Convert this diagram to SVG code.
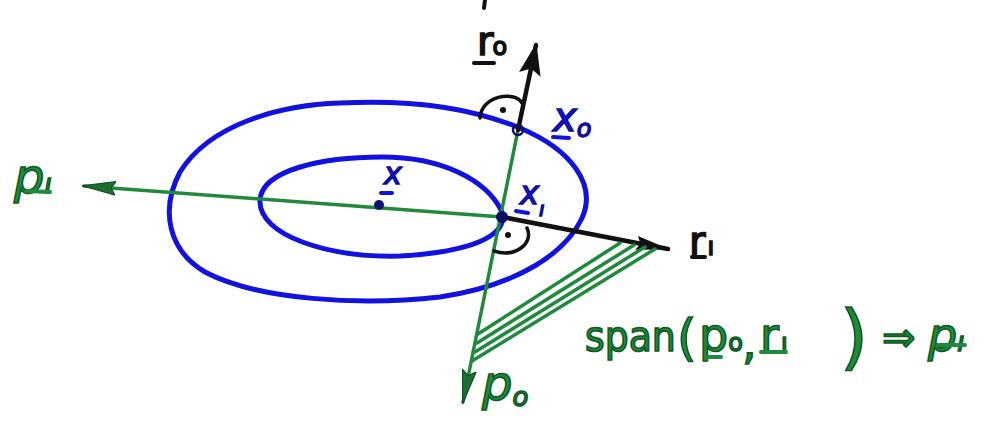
<svg xmlns="http://www.w3.org/2000/svg" width="1001" height="428" viewBox="0 0 1001 428">
<style>
.blue{fill:none;stroke:#1212e0;stroke-width:5;stroke-linecap:round;stroke-linejoin:round}
.gl{fill:none;stroke:#1f8a3b;stroke-width:3.5;stroke-linecap:round}
.kl{fill:none;stroke:#111;stroke-width:4.5;stroke-linecap:round}
.ka{fill:none;stroke:#111;stroke-width:3.5;stroke-linecap:round}
.t{font-family:"DejaVu Sans","Liberation Sans",sans-serif}
.tg{fill:#1f8a3b;stroke:#0f5a22;stroke-width:1.6}
.tb{fill:#1212e0;stroke:#0a0a90;stroke-width:1.4}
.tk{fill:#111;stroke:#111;stroke-width:1.6}
.ug{stroke:#1f8a3b;stroke-width:4;stroke-linecap:round}
.ub{stroke:#1212e0;stroke-width:4;stroke-linecap:round}
.uk{stroke:#111;stroke-width:4;stroke-linecap:round}
.cond{font-family:"DejaVu Sans Condensed","DejaVu Sans",sans-serif;font-stretch:condensed}
</style>
<defs>
<marker id="mk0" markerUnits="userSpaceOnUse" markerWidth="32" markerHeight="24" refX="30" refY="12" orient="auto"><path d="M0,1 L32,12 L0,23 L6,12 Z" fill="#111"/></marker>
<marker id="mk1" markerUnits="userSpaceOnUse" markerWidth="34" markerHeight="14" refX="32" refY="7" orient="auto"><path d="M0,0 L34,7 L0,14 L4,7 Z" fill="#111"/></marker>
<marker id="mg" markerUnits="userSpaceOnUse" markerWidth="34" markerHeight="16" refX="32" refY="8" orient="auto"><path d="M0,1 L34,8 L0,15 L5,8 Z" fill="#1a6e30" stroke="#0f4a1f" stroke-width="1"/></marker>
</defs>

<g id="level-sets">
<path id="outer" class="blue" d="M 340 103 C 420 99 475 110 520 128 C 572 150 597 185 582 218 C 566 252 520 285 440 297 C 360 306 258 300 205 272 C 168 250 160 210 180 172 C 210 124 280 105 340 103 Z"/>
<path id="inner" class="blue" d="M 260 200 C 262 170 322 157 382 157 C 442 157 486 180 501 210 C 511 236 470 252 400 256 C 330 258 258 236 260 200 Z"/>
</g>

<g id="connectors">
<line class="gl" x1="502" y1="217" x2="84" y2="186" marker-end="url(#mg)"/>
<line class="gl" x1="518" y1="130" x2="463" y2="402" marker-end="url(#mg)"/>
<line class="kl" x1="518" y1="130" x2="536" y2="45" marker-end="url(#mk0)"/>
<line class="kl" x1="502" y1="217" x2="668" y2="249" marker-end="url(#mk1)"/>
<g id="hatch">
<line class="gl" x1="478" y1="334" x2="620" y2="243"/>
<line class="gl" x1="477" y1="343" x2="634" y2="245"/>
<line class="gl" x1="475" y1="352" x2="645" y2="247"/>
<line class="gl" x1="472" y1="361" x2="655" y2="249"/>
</g>
</g>

<g id="right-angles">
<path class="ka" d="M 480 118 C 481 96 514 90 522 103"/>
<circle cx="503" cy="110" r="3" fill="#111"/>
<path class="ka" d="M 494 251 C 516 258 534 243 527 228"/>
<circle cx="508" cy="235" r="3" fill="#111"/>
</g>

<g id="points">
<circle cx="379" cy="205" r="5" fill="#101070"/>
<circle cx="518" cy="130" r="5" fill="none" stroke="#101060" stroke-width="2.5"/>
<circle cx="502" cy="217" r="6" fill="#101060"/>
</g>

<g id="label-x">
<text class="t tb" x="384" y="184" font-size="30" font-style="italic">x</text>
<line class="ub" x1="381" y1="193" x2="392" y2="193"/>
</g>
<g id="label-x0">
<text class="t tb" x="553" y="131" font-size="40" font-style="italic">x<tspan font-size="24" dy="6">o</tspan></text>
<line class="ub" x1="553" y1="137" x2="569" y2="138"/>
</g>
<g id="label-x1">
<text class="t tb" x="520" y="204" font-size="32" font-style="italic">x<tspan font-size="20" dy="12">ı</tspan></text>
<line class="ub" x1="516" y1="211" x2="528" y2="213"/>
</g>
<g id="label-r0">
<text class="t tk" x="477" y="55" font-size="40">r<tspan font-size="24" dx="-1">o</tspan></text>
<line class="uk" x1="474" y1="63" x2="494" y2="63"/>
</g>
<g id="label-r1">
<text class="t tk" x="689" y="255" font-size="40">r<tspan font-size="24" dx="2">ı</tspan></text>
<line class="uk" x1="692" y1="257" x2="705" y2="257"/>
</g>
<g id="label-p0">
<text class="t tg" x="482" y="400" font-size="48" font-style="italic">p<tspan font-size="26" dy="6">o</tspan></text>
</g>
<g id="label-p1">
<text class="t tg" x="14" y="193" font-size="48" font-style="italic">p<tspan font-size="26">ı</tspan></text>
<line class="ug" x1="27" y1="191" x2="50" y2="192"/>
</g>
<g id="label-span">
<text class="t tg" y="351" font-size="46"><tspan x="585" class="cond" font-size="42">span</tspan><tspan x="677" font-size="50" dy="4">(</tspan><tspan x="699" dy="-4">p</tspan><tspan font-size="24">o</tspan><tspan x="742" dy="8">,</tspan><tspan x="760" dy="-8">r</tspan><tspan font-size="24" dx="2">ı</tspan><tspan x="840" font-size="72" dy="10">)</tspan><tspan x="882" dy="-10" font-size="40">⇒</tspan><tspan x="928" font-style="italic">p</tspan><tspan font-size="26" font-style="italic">ı</tspan></text>
<line class="ug" x1="706" y1="357" x2="721" y2="357"/>
<line class="ug" x1="761" y1="352" x2="786" y2="352"/>
<line class="ug" x1="938" y1="345" x2="965" y2="345"/>
</g>
<line class="uk" x1="485" y1="0" x2="484" y2="8"/>
</svg>
